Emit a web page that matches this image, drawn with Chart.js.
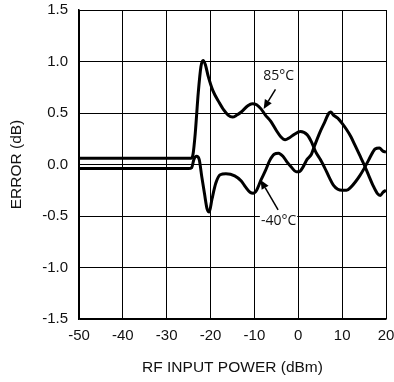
<!DOCTYPE html>
<html>
<head>
<meta charset="utf-8">
<script src="https://cdn.jsdelivr.net/npm/chart.js@4"></script>
<style>
html,body{margin:0;padding:0;background:#fff;}
#wrap{width:394px;height:382px;}
</style>
</head>
<body>
<div id="wrap"><canvas id="c" width="394" height="382"></canvas></div>
<script>
const xTicks = [-50, -40, -30, -20, -10, 0, 10, 20];
const yTicks = [-1.5, -1.0, -0.5, 0.0, 0.5, 1.0, 1.5];

const x85 = [-50, -24.5, -24.0, -23.5, -22.8, -22.2, -21.7, -21.2, -20.5, -19.5, -18, -17, -16, -15, -14, -13, -11.5, -10.5, -9.5, -8.5, -7.5, -6.3, -5, -4, -3, -2, -1, 0.5, 2, 3, 4, 5, 6, 7, 8, 9, 10, 11, 12, 13, 14, 15, 16, 17, 17.5, 18.5, 19.3, 20];
const y85 = [0.06, 0.06, 0.10, 0.30, 0.70, 0.95, 1.01, 0.97, 0.85, 0.72, 0.60, 0.53, 0.48, 0.46, 0.48, 0.51, 0.57, 0.59, 0.58, 0.54, 0.48, 0.42, 0.33, 0.27, 0.24, 0.26, 0.29, 0.32, 0.29, 0.22, 0.12, 0.05, -0.03, -0.12, -0.20, -0.24, -0.25, -0.25, -0.22, -0.17, -0.11, -0.04, 0.04, 0.12, 0.15, 0.16, 0.13, 0.12];

const xM40 = [-50, -25, -24.3, -23.8, -23.2, -22.6, -22, -21.4, -20.8, -20.3, -19.7, -18.8, -17.8, -16.5, -14.5, -13, -12, -11, -10.3, -9.5, -8.5, -7.5, -6.5, -5.5, -4.5, -3.5, -2.5, -1.5, -0.5, 0.2, 1, 2, 3, 3.6, 5, 6, 7, 7.4, 8, 9, 10, 11, 12, 13, 14, 15, 16, 17, 18, 18.7, 19.3, 20];
const yM40 = [-0.04, -0.04, -0.03, 0.05, 0.08, 0.05, -0.12, -0.28, -0.43, -0.46, -0.34, -0.18, -0.10, -0.09, -0.11, -0.16, -0.22, -0.27, -0.28, -0.25, -0.15, -0.06, 0.04, 0.10, 0.11, 0.08, 0.02, -0.03, -0.07, -0.07, -0.03, 0.05, 0.10, 0.17, 0.32, 0.41, 0.50, 0.51, 0.48, 0.45, 0.40, 0.34, 0.27, 0.18, 0.09, 0.00, -0.10, -0.20, -0.28, -0.30, -0.27, -0.25];

const seriesNames = ['85°C', '-40°C'];
// label anchor (data coords) and arrow from -> to (data coords)
const labelPos = [[-4.5, 0.86], [-4.5, -0.55]];
const arrowFrom = [[-5.2, 0.73], [-4.6, -0.44]];
const arrowTo = [[-7.9, 0.54], [-8.6, -0.15]];

function pts(xs, ys){ return xs.map((x,i)=>({x:x, y:ys[i]})); }

const annotate = {
  id:'annotate',
  afterDatasetsDraw(chart){
    const ctx = chart.ctx, xs = chart.scales.x, ys = chart.scales.y;
    ctx.save();
    ctx.font = '14px "Open Sans", "Liberation Sans", sans-serif';
    ctx.textAlign = 'center';
    ctx.textBaseline = 'middle';
    for (let i=0;i<seriesNames.length;i++){
      const lx = xs.getPixelForValue(labelPos[i][0]);
      const ly = ys.getPixelForValue(labelPos[i][1]);
      const w = ctx.measureText(seriesNames[i]).width;
      ctx.fillStyle = '#fff';
      ctx.fillRect(lx - w/2 - 1, ly - 8, w + 2, 16);
      ctx.fillStyle = '#111';
      ctx.fillText(seriesNames[i], lx, ly);
      const fx = xs.getPixelForValue(arrowFrom[i][0]), fy = ys.getPixelForValue(arrowFrom[i][1]);
      const tx = xs.getPixelForValue(arrowTo[i][0]), ty = ys.getPixelForValue(arrowTo[i][1]);
      const ang = Math.atan2(ty-fy, tx-fx);
      const hl = 9, hw = 4;
      const bx = tx - hl*Math.cos(ang), by = ty - hl*Math.sin(ang);
      ctx.strokeStyle = '#000';
      ctx.lineWidth = 1.5;
      ctx.beginPath(); ctx.moveTo(fx,fy); ctx.lineTo(bx,by); ctx.stroke();
      ctx.fillStyle = '#000';
      ctx.beginPath();
      ctx.moveTo(tx,ty);
      ctx.lineTo(bx + hw*Math.sin(ang), by - hw*Math.cos(ang));
      ctx.lineTo(bx - hw*Math.sin(ang), by + hw*Math.cos(ang));
      ctx.closePath(); ctx.fill();
    }
    ctx.restore();
  }
};

const tickFont = {family:'"Liberation Sans", Arial, sans-serif', size:15};
const titleFont = {family:'"Liberation Sans", Arial, sans-serif', size:15.5};

new Chart(document.getElementById('c'), {
  type:'line',
  data:{
    datasets:[
      {label:seriesNames[0], data:pts(x85,y85), borderColor:'#000', borderWidth:3, pointRadius:0, cubicInterpolationMode:'monotone', fill:false},
      {label:seriesNames[1], data:pts(xM40,yM40), borderColor:'#000', borderWidth:3, pointRadius:0, cubicInterpolationMode:'monotone', fill:false}
    ]
  },
  options:{
    responsive:false,
    animation:false,
    devicePixelRatio:1,
    layout:{padding:{left:0, top:10, right:8, bottom:0}},
    plugins:{legend:{display:false}, tooltip:{enabled:false}},
    scales:{
      x:{
        type:'linear', min:-50, max:20,
        afterBuildTicks(s){ s.ticks = xTicks.map(v=>({value:v})); },
        afterFit(s){ s.height = 63; s.paddingLeft = 0; s.paddingRight = 0; },
        grid:{color:'#000', lineWidth:1, drawTicks:false},
        border:{color:'#000', width:1.5},
        ticks:{color:'#111', font:tickFont, padding:8, maxRotation:0, callback:v=>String(v)},
        title:{display:true, text:'RF INPUT POWER (dBm)', color:'#111', font:titleFont, padding:{top:0,bottom:5}}
      },
      y:{
        type:'linear', min:-1.5, max:1.5,
        afterBuildTicks(s){ s.ticks = yTicks.map(v=>({value:v})); },
        afterFit(s){ s.width = 79; s.paddingTop = 0; s.paddingBottom = 0; },
        grid:{color:'#000', lineWidth:1, drawTicks:false},
        border:{color:'#000', width:1.5},
        ticks:{color:'#111', font:tickFont, padding:11, callback:v=>Number(v).toFixed(1)},
        title:{display:true, text:'ERROR (dB)', color:'#111', font:titleFont, padding:{top:7,bottom:0}}
      }
    }
  },
  plugins:[annotate]
});
</script>
</body>
</html>
